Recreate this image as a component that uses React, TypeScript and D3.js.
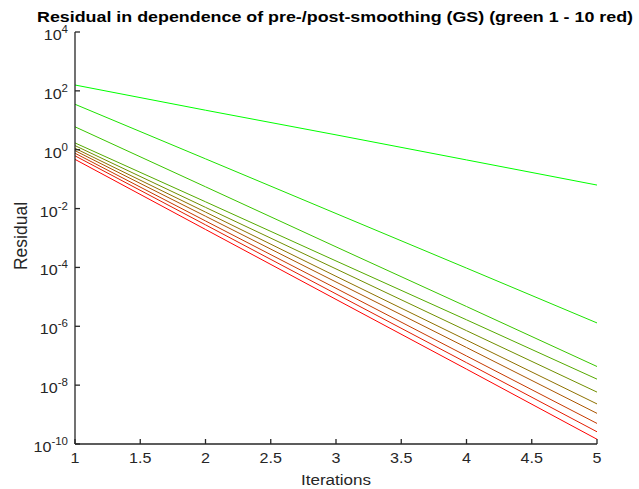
import React from "react";
import * as d3 from "d3";

const iterations = [1, 2, 3, 4, 5];
const smoothingSteps = [1, 2, 3, 4, 5, 6, 7, 8, 9, 10];
const residuals: number[][] = [
  [158, 22, 3.2, 0.45, 0.063],
  [35, 0.49, 6.8e-3, 9.5e-5, 1.3e-6],
  [6.0, 0.055, 5.0e-4, 4.7e-6, 4.3e-8],
  [1.7, 0.017, 1.66e-4, 1.66e-6, 1.6e-8],
  [1.38, 0.011, 8.9e-5, 7.1e-7, 5.8e-9],
  [1.12, 7.6e-3, 5.0e-5, 3.4e-7, 2.3e-9],
  [0.93, 5.5e-3, 3.2e-5, 1.9e-7, 1.1e-9],
  [0.76, 3.8e-3, 1.95e-5, 9.8e-8, 5.0e-10],
  [0.62, 2.8e-3, 1.26e-5, 5.8e-8, 2.6e-10],
  [0.47, 1.95e-3, 8.2e-6, 3.5e-8, 1.45e-10],
];
const xTicks = [1, 1.5, 2, 2.5, 3, 3.5, 4, 4.5, 5];
const yTickExps = [4, 2, 0, -2, -4, -6, -8, -10];

const W = 639, H = 489;
const m = { left: 75, right: 597, top: 32, bottom: 444 };
const FONT = "'Liberation Sans', Arial, Helvetica, sans-serif";
const AX = "#262626";
const SX = 1.15;

export default function App() {
  const x = d3.scaleLinear().domain([1, 5]).range([m.left, m.right]);
  const y = d3.scaleLog().domain([1e-10, 1e4]).range([m.bottom, m.top]);
  const line = d3.line<number>().x((_, i) => x(iterations[i])).y((d) => y(d));
  const n = smoothingSteps.length;
  const color = (i: number) => {
    const t = i / (n - 1);
    return d3.rgb(Math.round(255 * t), Math.round(255 * (1 - t)), 0).toString();
  };
  return (
    <svg width={W} height={H} style={{ position: "absolute", left: 0, top: 0, background: "#fff" }}>
      <rect x={0} y={0} width={W} height={H} fill="#fff" />
      {residuals.map((s, i) => (
        <path key={i} d={line(s) || ""} fill="none" stroke={color(i)} strokeWidth={1} />
      ))}
      <g stroke={AX} strokeWidth={1.3} fill="none">
        <line x1={m.left} x2={m.left} y1={m.top} y2={m.bottom} />
        <line x1={m.left} x2={m.right} y1={m.bottom} y2={m.bottom} />
        {xTicks.map((t) => (
          <line key={t} x1={x(t)} x2={x(t)} y1={m.bottom} y2={m.bottom - 5} />
        ))}
        {yTickExps.map((e) => (
          <line key={e} x1={m.left} x2={m.left + 5} y1={y(Math.pow(10, e))} y2={y(Math.pow(10, e))} />
        ))}
      </g>
      <g fontFamily={FONT} fill={AX}>
        {xTicks.map((t) => (
          <text key={t} transform={`translate(${x(t)},${m.bottom + 19}) scale(${SX},1)`} fontSize={14} textAnchor="middle">
            {String(t)}
          </text>
        ))}
        {yTickExps.map((e) => (
          <text key={e} transform={`translate(${m.left - 7},${y(Math.pow(10, e)) + 8}) scale(${SX},1)`} fontSize={14} textAnchor="end">
            10<tspan dy={-7} fontSize={10}>{String(e)}</tspan>
          </text>
        ))}
        <text transform={`translate(${(m.left + m.right) / 2},485) scale(1.1,1)`} fontSize={15.5} textAnchor="middle">
          Iterations
        </text>
        <text transform={`translate(27,236) rotate(-90)`} fontSize={17.5} textAnchor="middle">
          Residual
        </text>
        <text x={335} y={22} fontSize={15.5} fontWeight="bold" textAnchor="middle" fill="#000" textLength={596} lengthAdjust="spacingAndGlyphs">
          Residual in dependence of pre-/post-smoothing (GS) (green 1 - 10 red)
        </text>
      </g>
    </svg>
  );
}
